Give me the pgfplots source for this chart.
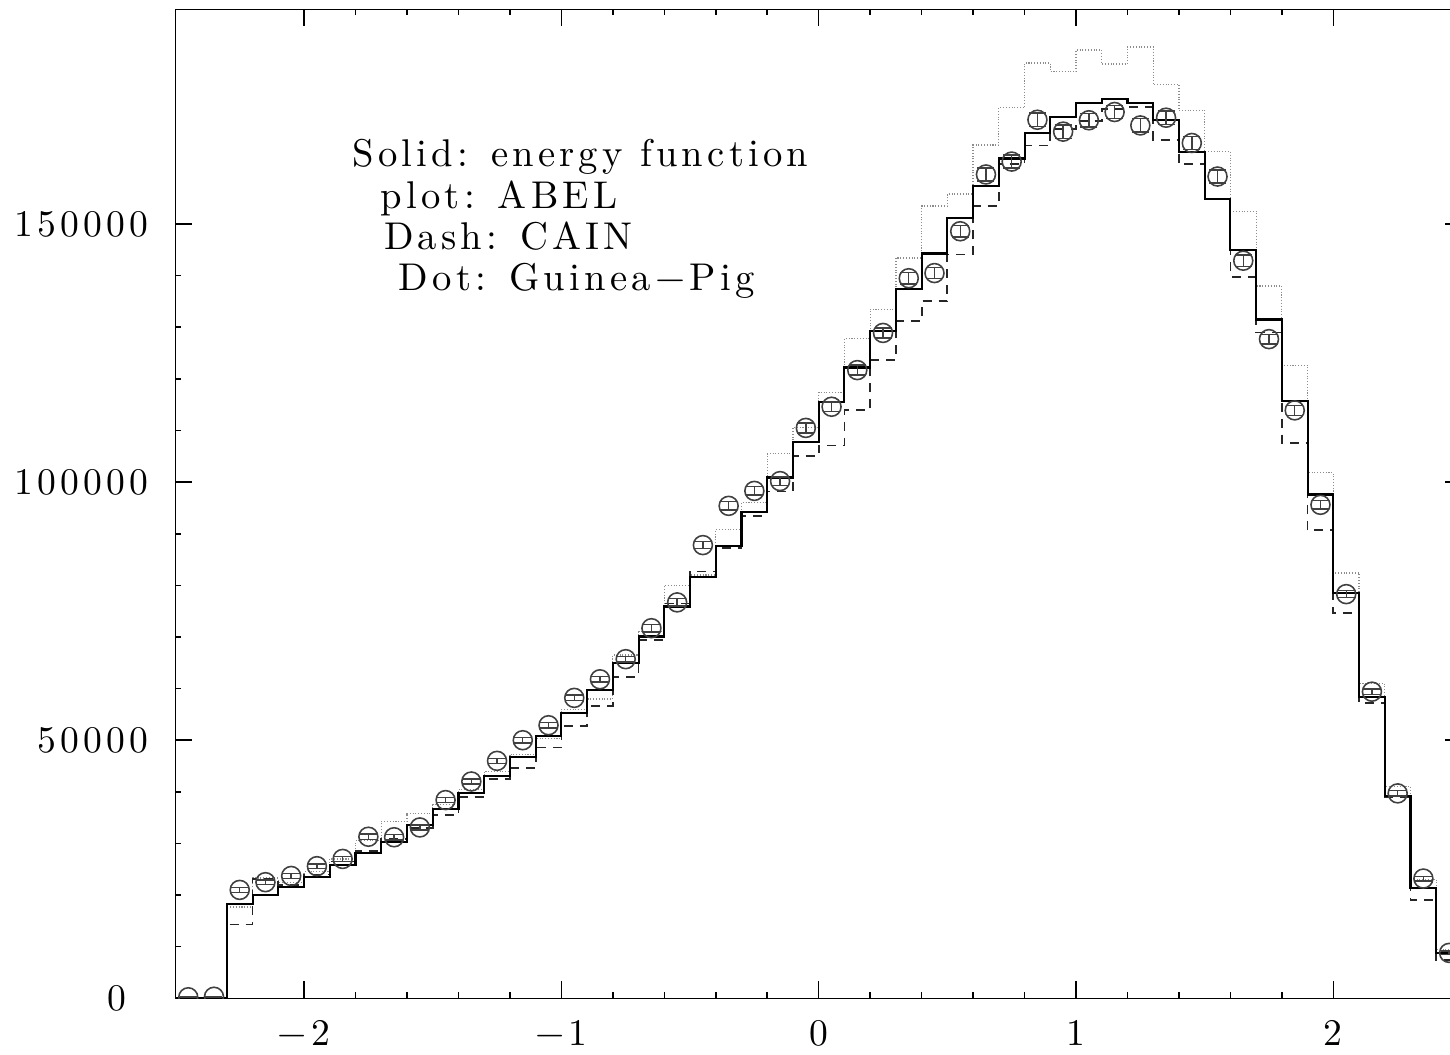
\documentclass[border=0pt]{standalone}
\usepackage{fontspec}
\usepackage{pgfplots}
\pgfplotsset{compat=1.18}
\usepackage{pgfplotstable}
\newfontfamily\wide{lmroman10-regular.otf}[LetterSpace=11]

\pgfplotstableread{
x s d g
-2.5 0 0 0
-2.4 0 0 0
-2.3 18200 14300 17700
-2.2 20000 23100 23300
-2.1 21600 22000 22500
-2.0 23500 24000 24500
-1.9 25800 26500 27000
-1.8 28100 28500 30500
-1.7 30300 30800 34200
-1.6 33600 33000 35800
-1.5 36600 35500 37500
-1.4 39700 39000 40500
-1.3 43100 42500 44000
-1.2 46800 44600 47300
-1.1 50900 48600 50400
-1.0 55300 52800 56000
-0.9 59800 56700 58000
-0.8 64900 62300 66500
-0.7 70100 69400 71000
-0.6 75900 76500 80000
-0.5 81700 82700 82000
-0.4 87600 87200 90800
-0.3 94200 93500 96000
-0.2 100900 98200 105500
-0.1 107800 105100 110600
0.0 115500 107100 117400
0.1 122200 113900 127800
0.2 129300 123600 133500
0.3 137400 131200 143400
0.4 144300 135100 153500
0.5 151100 144100 155800
0.6 157400 153500 165300
0.7 162700 161600 172500
0.8 167700 165200 181200
0.9 170800 168400 179500
1.0 173400 170000 183700
1.1 174300 172300 181000
1.2 173400 172600 184300
1.3 170200 166300 177000
1.4 164000 161600 172000
1.5 154900 154800 164000
1.6 145000 139800 152500
1.7 131500 129000 138000
1.8 115700 107600 122600
1.9 97600 90700 101800
2.0 78500 74600 82400
2.1 58300 57200 61000
2.2 39200 39000 41000
2.3 21400 19000 23000
2.4 8700 7400 9500
2.5 8700 7400 9500
}\hist

\pgfplotstableread{
x y e
-2.45 200 100
-2.35 300 100
-2.25 21000 450
-2.15 22500 450
-2.05 23700 450
-1.95 25600 450
-1.85 27000 450
-1.75 31300 500
-1.65 31200 500
-1.55 33100 500
-1.45 38400 500
-1.35 42000 500
-1.25 46000 500
-1.15 50000 550
-1.05 52900 550
-0.95 58200 550
-0.85 61800 550
-0.75 65700 550
-0.65 71700 700
-0.55 76700 700
-0.45 87800 700
-0.35 95400 800
-0.25 98300 800
-0.15 100200 800
-0.05 110500 950
0.05 114600 950
0.15 121700 950
0.25 128900 950
0.35 139500 1100
0.45 140500 1100
0.55 148600 1100
0.65 159600 1250
0.75 162100 1250
0.85 170200 1300
0.95 167900 1300
1.05 170100 1300
1.15 171700 1300
1.25 169100 1300
1.35 170600 1300
1.45 165700 1250
1.55 159200 1250
1.65 142900 1100
1.75 127700 950
1.85 113900 950
1.95 95600 800
2.05 78300 700
2.15 59400 550
2.25 39700 500
2.35 23200 450
2.45 8800 350
}\marks

\begin{document}
\begin{tikzpicture}
\begin{axis}[
  at={(0,0)}, anchor=south west,
  scale only axis, width=12.866cm, height=9.89cm,
  xmin=-2.5, xmax=2.5, ymin=0, ymax=191600,
  xtick={-2,-1,0,1,2},
  xticklabels={{−2},{−1},{0},{1},{2}},
  minor x tick num=4,
  ytick={0,50000,100000,150000},
  yticklabels={{0\rule{2.2mm}{0pt}},{50000},{100000},{150000}},
  minor y tick num=4,
  scaled y ticks=false,
  tick align=inside,
  major tick length=1.7mm, minor tick length=0.6mm,
  axis line style={line width=0.45pt},
  every tick/.style={black, line width=0.45pt},
  tick label style={font=\fontsize{10.7}{12}\wide},
  xticklabel style={yshift=-1mm},
  yticklabel style={xshift=-1.5mm},
  clip mode=individual,
  clip marker paths=true,
]
\addplot[const plot mark left, black!45, line width=0.35pt, dash pattern=on 0.3pt off 0.5pt] table[x=x, y=g] {\hist};
\addplot[const plot mark left, black!85, line width=0.5pt, dash pattern=on 0.9mm off 0.7mm] table[x=x, y=d] {\hist};
\addplot[const plot mark left, black, line width=0.6pt] table[x=x, y=s] {\hist};
\addplot[only marks, mark=o, mark size=0.95mm, black!75,
  mark options={line width=0.45pt, solid},
  error bars/.cd, y dir=both, y explicit, error mark=|,
  error mark options={mark size=0.85mm, line width=0.4pt, black!75},
  error bar style={line width=0.4pt, black!75}]
  table[x=x, y=y, y error=e] {\marks};
\node[anchor=base west, font=\fontsize{11}{13}\wide, inner sep=0pt] at (axis cs:-1.815,161100) {Solid: energy function};
\node[anchor=base west, font=\fontsize{11}{13}\wide, inner sep=0pt] at (axis cs:-1.705,153000) {plot: ABEL};
\node[anchor=base west, font=\fontsize{11}{13}\wide, inner sep=0pt] at (axis cs:-1.692,145100) {Dash: CAIN};
\node[anchor=base west, font=\fontsize{11}{13}\wide, inner sep=0pt] at (axis cs:-1.634,137200) {Dot: Guinea−Pig};
\end{axis}
\pgfresetboundingbox
\useasboundingbox (-1.754cm,-0.557cm) rectangle (12.746cm,9.983cm);
\end{tikzpicture}
\end{document}
